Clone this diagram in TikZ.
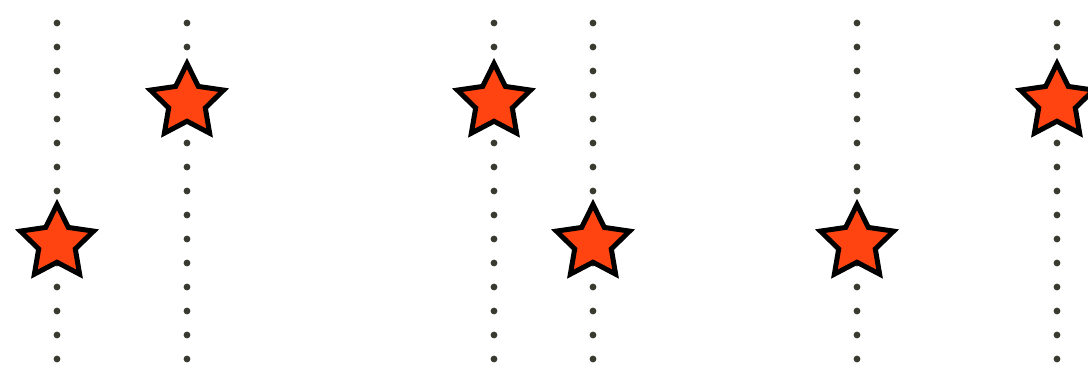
\documentclass[tikz,border=0pt]{standalone}
\usetikzlibrary{shapes.geometric}
\definecolor{dotc}{HTML}{3A3A30}
\definecolor{starc}{HTML}{FF4411}
\tikzset{
  dotline/.style={fill=dotc},
  starmark/.style={star, star points=5, star point ratio=2.0, minimum size=77pt, inner sep=0pt, outer sep=0pt, fill=starc, draw=black, line width=5pt, line join=miter}
}
\begin{document}
\begin{tikzpicture}[x=1pt,y=-1pt]
\useasboundingbox (0,0) rectangle (1088,365);
\clip (0,0) rectangle (1088,365);
\foreach \x in {57,187,494,593,857,1057}{
  \foreach \k in {0,...,14}{
    \fill[dotline] (\x,23+24*\k) circle (3.4pt);
  }
}
\node[starmark] (s1) at (57,243) {};
\node[starmark] (s2) at (187,102) {};
\node[starmark] (s3) at (494,102) {};
\node[starmark] (s4) at (593,243) {};
\node[starmark] (s5) at (857,243) {};
\node[starmark] (s6) at (1057,102) {};
\end{tikzpicture}
\end{document}
